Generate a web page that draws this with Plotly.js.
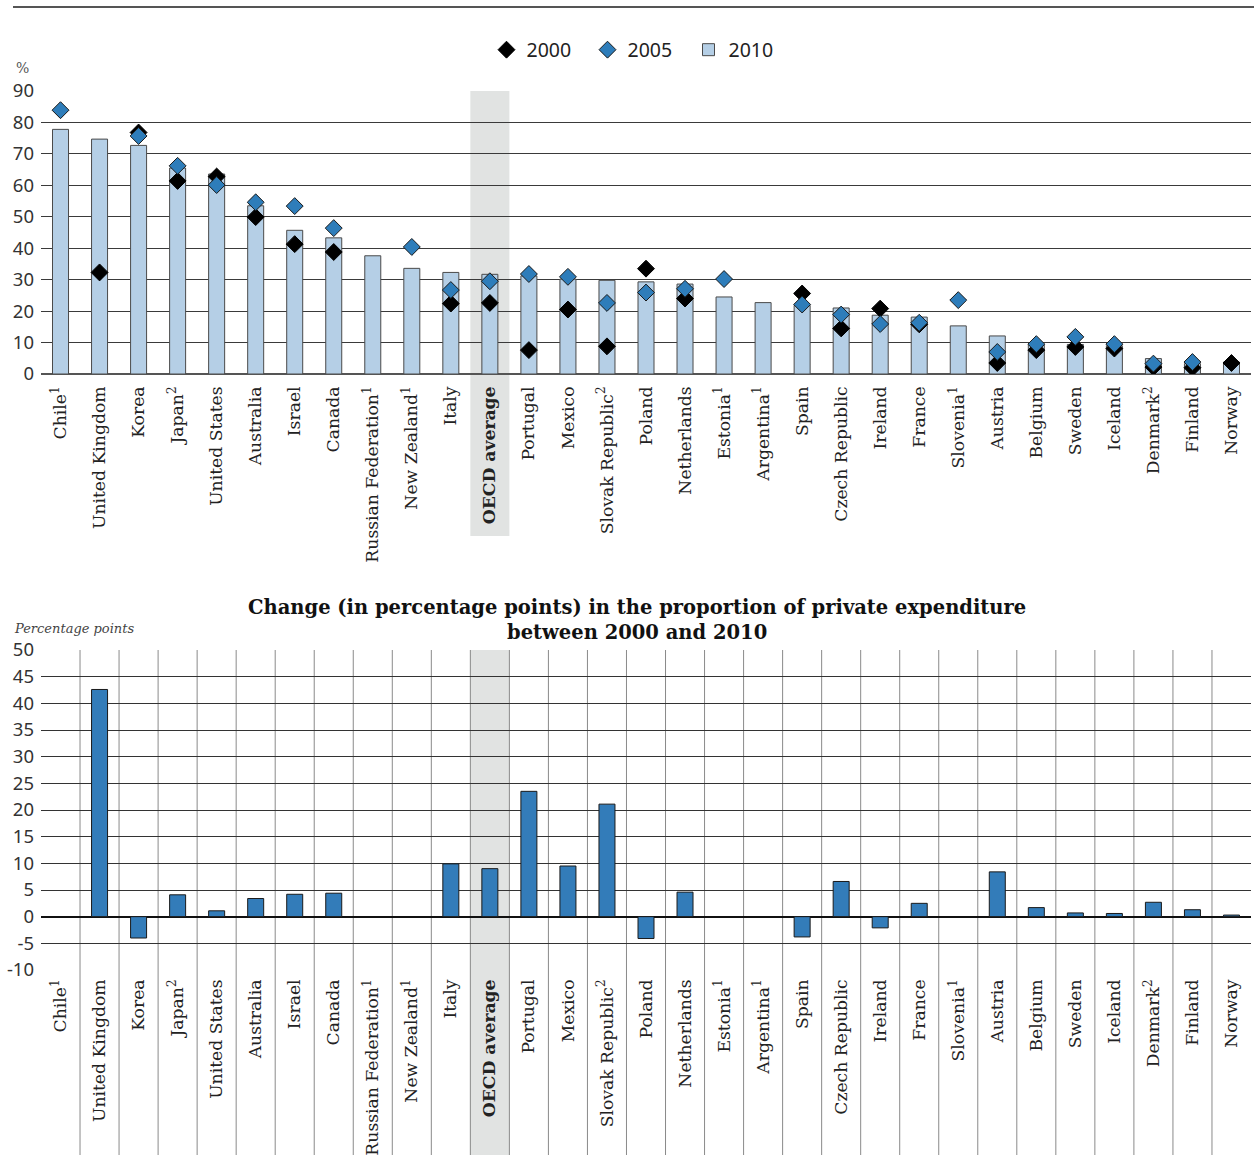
<!DOCTYPE html>
<html>
<head>
<meta charset="utf-8">
<script src="https://cdn.plot.ly/plotly-3.0.1.min.js"></script>
<style>html,body{margin:0;padding:0;background:#fff}#chart{width:1254px;height:1155px}</style>
</head>
<body>
<div id="chart"></div>
<script>
const categories = ["Chile","United Kingdom","Korea","Japan","United States","Australia","Israel","Canada","Russian Federation","New Zealand","Italy","OECD average","Portugal","Mexico","Slovak Republic","Poland","Netherlands","Estonia","Argentina","Spain","Czech Republic","Ireland","France","Slovenia","Austria","Belgium","Sweden","Iceland","Denmark","Finland","Norway"];
const tickLabels = ["Chile<sup>1</sup>","United Kingdom","Korea","Japan<sup>2</sup>","United States","Australia","Israel","Canada","Russian Federation<sup>1</sup>","New Zealand<sup>1</sup>","Italy","<b>OECD average</b>","Portugal","Mexico","Slovak Republic<sup>2</sup>","Poland","Netherlands","Estonia<sup>1</sup>","Argentina<sup>1</sup>","Spain","Czech Republic","Ireland","France","Slovenia<sup>1</sup>","Austria","Belgium","Sweden","Iceland","Denmark<sup>2</sup>","Finland","Norway"];
const values2010 = [77.8,74.7,72.7,65.5,63.6,53.5,45.7,43.3,37.6,33.6,32.3,31.7,31.2,30.2,29.8,29.3,28.6,24.5,22.7,21.8,21.0,18.7,18.1,15.3,12.1,9.2,9.4,9.0,4.9,3.3,3.8];
const values2005 = [83.9,null,75.7,66.2,60.1,54.6,53.4,46.4,null,40.4,26.7,29.5,31.8,30.9,22.6,25.9,27.1,30.2,null,22.1,18.9,15.9,16.3,23.5,7.0,9.5,11.8,9.5,3.3,3.8,null];
const values2000 = [null,32.3,76.8,61.4,62.8,49.9,41.3,38.8,null,null,22.4,22.6,7.6,20.5,8.8,33.5,24.0,null,null,25.6,14.5,20.8,15.8,null,3.5,7.6,8.6,8.1,2.2,2.0,3.5];
const change = [null,42.6,-4.0,4.1,1.1,3.4,4.2,4.4,null,null,9.9,9.0,23.5,9.5,21.1,-4.1,4.6,null,null,-3.8,6.6,-2.1,2.5,null,8.4,1.7,0.7,0.6,2.7,1.3,0.3];
const yTicksTop = [0,10,20,30,40,50,60,70,80,90];
const yTicksBottom = [-10,-5,0,5,10,15,20,25,30,35,40,45,50];
const yTickTextBottom = ["-10","-5","0","5","10","15","20","25","30","35","40","45","50"];
const seriesNames = ["2000","2005","2010"];
const highlight = "OECD average";
const bottomTitle = "<b>Change (in percentage points) in the proportion of private expenditure<br>between 2000 and 2010</b>";

const W = 1254, H = 1155;
const py = px => 1 - px / H;
const topDomain = [py(374), py(91)];
const botDomain = [py(970), py(650)];
const hi = categories.indexOf(highlight);
const n = categories.length;

const traces = [
  {type:'bar', x:categories, y:values2010, name:seriesNames[2], legendrank:3, xaxis:'x', yaxis:'y', width:0.41,
   marker:{color:'#b5cfe6', line:{color:'#4a4a4a', width:1}}, hoverinfo:'skip'},
  {type:'scatter', mode:'markers', x:categories, y:values2000, name:seriesNames[0], legendrank:1, xaxis:'x', yaxis:'y',
   marker:{symbol:'diamond', size:13, color:'#000000', line:{color:'#000', width:1}}, hoverinfo:'skip'},
  {type:'scatter', mode:'markers', x:categories, y:values2005, name:seriesNames[1], legendrank:2, xaxis:'x', yaxis:'y',
   marker:{symbol:'diamond', size:13, color:'#2e7dba', line:{color:'#1a1a1a', width:1}}, hoverinfo:'skip'},
  {type:'bar', x:categories, y:change, name:'change', xaxis:'x2', yaxis:'y2', width:0.41, showlegend:false,
   marker:{color:'#337cb9', line:{color:'#1a1a1a', width:1}}, hoverinfo:'skip'}
];

const shapes = [
  {type:'line', xref:'paper', yref:'paper', x0:(13-41)/1210, x1:1.01, y0:py(7), y1:py(7), line:{color:'#555', width:2}},
  {type:'rect', xref:'x', yref:'paper', x0:hi-0.5, x1:hi+0.5, y0:py(536), y1:topDomain[1], fillcolor:'#e1e3e2', line:{width:0}, layer:'below'},
  {type:'rect', xref:'x2', yref:'paper', x0:hi-0.5, x1:hi+0.5, y0:0, y1:botDomain[1], fillcolor:'#e1e3e2', line:{width:0}, layer:'below'}
];
for (let i = 0; i < n - 1; i++) {
  shapes.push({type:'line', xref:'x2', yref:'paper', x0:i+0.5, x1:i+0.5, y0:0, y1:botDomain[1], line:{color:'#8a8a8a', width:1}, layer:'below'});
}

const catFont = {family:'DejaVu Serif', size:17.2, color:'#222'};
const tickFont = {family:'Noto Sans', size:18.5, color:'#333'};

const layout = {
  width:W, height:H, margin:{l:41, r:3, t:0, b:0},
  paper_bgcolor:'#fff', plot_bgcolor:'rgba(0,0,0,0)',
  showlegend:true,
  legend:{orientation:'h', x:(638-41)/1210, xanchor:'center', y:py(50), yanchor:'middle', font:{family:'Noto Sans', size:19.5, color:'#222'},
          traceorder:'normal', itemwidth:30, entrywidth:56, entrywidthmode:'pixels'},
  xaxis:{domain:[0,1], anchor:'y', type:'category', categoryorder:'array', categoryarray:categories, range:[-0.5, n-0.5],
         tickvals:categories, ticktext:tickLabels, tickangle:-90, tickfont:catFont, ticklabelstandoff:8, showgrid:false, showline:false, ticks:'', automargin:false, fixedrange:true},
  yaxis:{domain:topDomain, anchor:'x', range:[0,90], tickvals:yTicksTop, tickfont:tickFont, ticklabelstandoff:6, showgrid:true, gridcolor:'#3a3a3a', gridwidth:1,
         zeroline:true, zerolinecolor:'#555', zerolinewidth:2, showline:false, ticks:'', automargin:false, fixedrange:true},
  xaxis2:{domain:[0,1], anchor:'y2', type:'category', categoryorder:'array', categoryarray:categories, range:[-0.5, n-0.5],
         tickvals:categories, ticktext:tickLabels, tickangle:-90, tickfont:catFont, ticklabelstandoff:5, showgrid:false, showline:false, ticks:'', automargin:false, fixedrange:true},
  yaxis2:{domain:botDomain, anchor:'x2', range:[-10,50], tickvals:yTicksBottom, ticktext:yTickTextBottom, tickfont:tickFont, ticklabelstandoff:6, showgrid:true, gridcolor:'#333', gridwidth:1,
         zeroline:true, zerolinecolor:'#111', zerolinewidth:2, showline:false, ticks:'', automargin:false, fixedrange:true},
  shapes:shapes,
  annotations:[
    {text:'%', xref:'paper', yref:'paper', x:(22-41)/1210, y:py(68), xanchor:'center', yanchor:'middle', showarrow:false, font:{family:'DejaVu Serif', size:14, color:'#555'}},
    {text:'<i>Percentage points</i>', xref:'paper', yref:'paper', x:(12-41)/1210, y:py(628), xanchor:'left', yanchor:'middle', showarrow:false, font:{family:'DejaVu Serif', size:13, color:'#444'}},
    {text:bottomTitle, xref:'paper', yref:'paper', x:(637-41)/1210, y:py(620), xanchor:'center', yanchor:'middle', showarrow:false, font:{family:'DejaVu Serif', size:19.5, color:'#111'}}
  ]
};

Plotly.newPlot('chart', traces, layout, {staticPlot:true, displayModeBar:false});
</script>
</body>
</html>
